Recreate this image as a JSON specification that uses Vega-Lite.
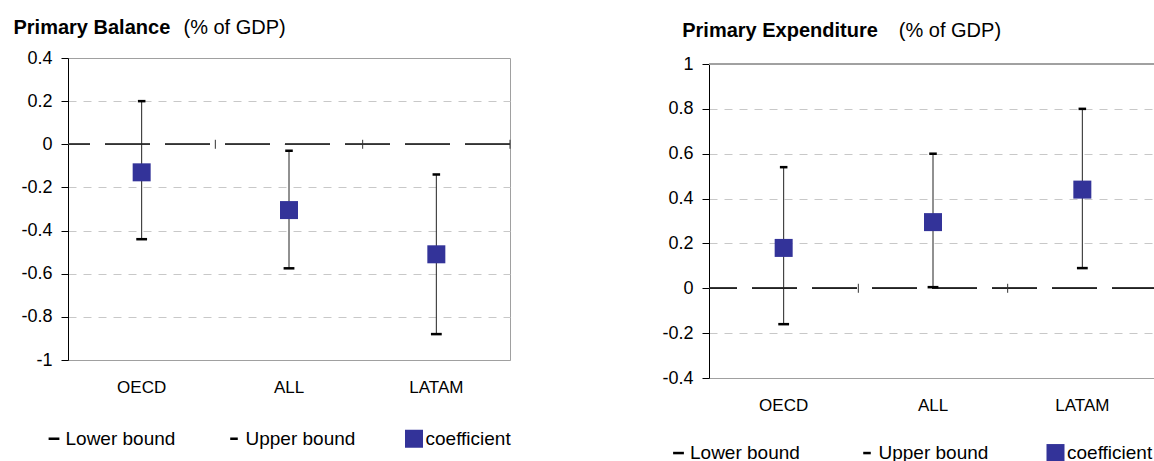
{
  "$schema": "https://vega.github.io/schema/vega-lite/v6.json",
  "padding": {"left": 12, "top": 16, "right": 0, "bottom": 0},
  "bounds": "flush",
  "spacing": 199,
  "datasets": {
    "pb": [
      {"region": "OECD", "series": "Lower bound", "value": -0.44},
      {"region": "OECD", "series": "Upper bound", "value": 0.2},
      {"region": "ALL", "series": "Lower bound", "value": -0.575},
      {"region": "ALL", "series": "Upper bound", "value": -0.03},
      {"region": "LATAM", "series": "Lower bound", "value": -0.88},
      {"region": "LATAM", "series": "Upper bound", "value": -0.14},
      {"region": "OECD", "series": "coefficient", "value": -0.13},
      {"region": "ALL", "series": "coefficient", "value": -0.305},
      {"region": "LATAM", "series": "coefficient", "value": -0.51}
    ],
    "pe": [
      {"region": "OECD", "series": "Lower bound", "value": -0.16},
      {"region": "OECD", "series": "Upper bound", "value": 0.54},
      {"region": "ALL", "series": "Lower bound", "value": 0.005},
      {"region": "ALL", "series": "Upper bound", "value": 0.6},
      {"region": "LATAM", "series": "Lower bound", "value": 0.09},
      {"region": "LATAM", "series": "Upper bound", "value": 0.8},
      {"region": "OECD", "series": "coefficient", "value": 0.18},
      {"region": "ALL", "series": "coefficient", "value": 0.295},
      {"region": "LATAM", "series": "coefficient", "value": 0.44}
    ]
  },
  "config": {
    "font": "Liberation Sans",
    "view": {"stroke": "#a0a0a0", "strokeWidth": 1},
    "axis": {"labelFont": "Liberation Sans", "titleFont": "Liberation Sans", "labelColor": "#000000", "titleColor": "#000000"}
  },
  "resolve": {
    "scale": {"x": "independent", "y": "independent", "color": "independent", "shape": "independent"},
    "legend": {"color": "independent", "shape": "independent"}
  },
  "hconcat": [
    {
      "width": 442,
      "height": 302,
      "data": {"name": "pb"},
      "layer": [
        {
          "mark": {"type": "rule", "strokeDash": [45, 15], "color": "#333333", "strokeWidth": 1},
          "encoding": {
            "y": {
              "datum": 0, "type": "quantitative",
              "scale": {"domain": [-1, 0.4], "nice": false, "zero": false},
              "axis": {
                "values": [0.4, 0.2, 0, -0.2, -0.4, -0.6, -0.8, -1],
                "labelExpr": "datum.value + ''",
                "domainColor": "#000000", "tickColor": "#000000", "tickSize": 7,
                "labelPadding": 9, "labelFontSize": 18,
                "grid": true, "gridColor": "#c8c8c8", "gridDash": [8, 7],
                "gridOpacity": {"condition": {"test": "datum.value == 0 || datum.value == 0.4", "value": 0}, "value": 1},
                "title": "(% of GDP)", "titleAngle": 0, "titleAlign": "left", "titleBaseline": "alphabetic",
                "titleX": 115, "titleY": -24.7, "titleFontWeight": "normal", "titleFontSize": 20
              }
            }
          }
        },
        {
          "transform": [{"filter": "datum.series == 'coefficient'"}],
          "mark": {"type": "point", "shape": "M0,-1L0,1", "size": 81, "filled": false, "stroke": "#333333", "strokeWidth": 1, "opacity": 1},
          "encoding": {
            "x": {
              "field": "region", "type": "nominal", "bandPosition": 1,
              "scale": {"domain": ["OECD", "ALL", "LATAM"], "paddingInner": 0, "paddingOuter": 0},
              "axis": {
                "title": "Primary Balance", "titleFontWeight": "bold", "titleFontSize": 20,
                "titleAlign": "left", "titleBaseline": "alphabetic", "titleX": -55, "titleY": -326.7,
                "labelAngle": 0, "ticks": false, "labelPadding": 19, "labelFontSize": 17,
                "domainColor": "#a0a0a0", "grid": false
              }
            },
            "y": {"datum": 0, "type": "quantitative"}
          }
        },
        {
          "transform": [{"pivot": "series", "value": "value", "groupby": ["region"]}],
          "mark": {"type": "rule", "color": "#222222", "strokeWidth": 1},
          "encoding": {
            "x": {"field": "region", "type": "nominal"},
            "y": {"field": "Lower bound", "type": "quantitative"},
            "y2": {"field": "Upper bound"}
          }
        },
        {
          "mark": {"type": "point", "filled": true, "size": 324, "opacity": 1, "strokeWidth": 0},
          "encoding": {
            "x": {"field": "region", "type": "nominal"},
            "y": {"field": "value", "type": "quantitative"},
            "color": {
              "field": "series", "type": "nominal",
              "scale": {"domain": ["Lower bound", "Upper bound", "coefficient"], "range": ["#000000", "#000000", "#333399"]},
              "legend": {"orient": "none", "legendX": -23.5, "legendY": 371, "direction": "horizontal", "title": null,
                "labelFontSize": 19, "labelFont": "Liberation Sans", "labelColor": "#000000", "labelOffset": 2,
                "columnPadding": 49, "symbolSize": 324, "padding": 0, "symbolStrokeWidth": 0}
            },
            "shape": {
              "field": "series", "type": "nominal",
              "scale": {"domain": ["Lower bound", "Upper bound", "coefficient"], "range": ["M-0.6,-0.14H0.6V0.14H-0.6Z", "M-0.42,-0.14H0.42V0.14H-0.42Z", "square"]},
              "legend": {"orient": "none", "legendX": -23.5, "legendY": 371, "direction": "horizontal", "title": null,
                "labelFontSize": 19, "labelFont": "Liberation Sans", "labelColor": "#000000", "labelOffset": 2,
                "columnPadding": 49, "symbolSize": 324, "padding": 0, "symbolStrokeWidth": 0}
            }
          }
        }
      ]
    },
    {
      "width": 448,
      "height": 320,
      "view": {"stroke": null},
      "data": {"name": "pe"},
      "layer": [
        {
          "mark": {"type": "rule", "strokeDash": [45, 15], "color": "#222222", "strokeWidth": 1},
          "encoding": {
            "y": {
              "datum": 0, "type": "quantitative",
              "scale": {"domain": [-0.4, 1], "nice": false, "zero": false, "range": [320, 6]},
              "axis": {
                "values": [1, 0.8, 0.6, 0.4, 0.2, 0, -0.2, -0.4],
                "labelExpr": "datum.value + ''",
                "domainColor": "#000000", "tickColor": "#000000", "tickSize": 7,
                "labelPadding": 9, "labelFontSize": 18,
                "grid": true, "gridColor": "#c8c8c8", "gridDash": [8, 7],
                "gridOpacity": {"condition": {"test": "datum.value == 0 || datum.value == 1 || datum.value == -0.4", "value": 0}, "value": 1},
                "title": "(% of GDP)", "titleAngle": 0, "titleAlign": "left", "titleBaseline": "alphabetic",
                "titleX": 189.3, "titleY": -22, "titleFontWeight": "normal", "titleFontSize": 20
              }
            }
          }
        },
        {
          "mark": {"type": "rule", "color": "#a0a0a0", "strokeWidth": 1},
          "encoding": {"y": {"datum": 1, "type": "quantitative"}}
        },
        {
          "transform": [{"filter": "datum.series == 'coefficient'"}],
          "mark": {"type": "point", "shape": "M0,-1L0,1", "size": 81, "filled": false, "stroke": "#333333", "strokeWidth": 1, "opacity": 1},
          "encoding": {
            "x": {
              "field": "region", "type": "nominal", "bandPosition": 1,
              "scale": {"domain": ["OECD", "ALL", "LATAM"], "paddingInner": 0, "paddingOuter": 0},
              "axis": {
                "title": "Primary Expenditure", "titleFontWeight": "bold", "titleFontSize": 20,
                "titleAlign": "left", "titleBaseline": "alphabetic", "titleX": -27.3, "titleY": -342,
                "labelAngle": 0, "ticks": false, "labelPadding": 19, "labelFontSize": 17,
                "domainColor": "#a0a0a0", "grid": false
              }
            },
            "y": {"datum": 0, "type": "quantitative"}
          }
        },
        {
          "transform": [{"pivot": "series", "value": "value", "groupby": ["region"]}],
          "mark": {"type": "rule", "color": "#222222", "strokeWidth": 1},
          "encoding": {
            "x": {"field": "region", "type": "nominal"},
            "y": {"field": "Lower bound", "type": "quantitative"},
            "y2": {"field": "Upper bound"}
          }
        },
        {
          "mark": {"type": "point", "filled": true, "size": 324, "opacity": 1, "strokeWidth": 0},
          "encoding": {
            "x": {"field": "region", "type": "nominal"},
            "y": {"field": "value", "type": "quantitative"},
            "color": {
              "field": "series", "type": "nominal",
              "scale": {"domain": ["Lower bound", "Upper bound", "coefficient"], "range": ["#000000", "#000000", "#333399"]},
              "legend": {"orient": "none", "legendX": -40, "legendY": 385.3, "direction": "horizontal", "title": null,
                "labelFontSize": 19, "labelFont": "Liberation Sans", "labelColor": "#000000", "labelOffset": 2,
                "columnPadding": 57.5, "symbolSize": 324, "padding": 0, "symbolStrokeWidth": 0}
            },
            "shape": {
              "field": "series", "type": "nominal",
              "scale": {"domain": ["Lower bound", "Upper bound", "coefficient"], "range": ["M-0.6,-0.14H0.6V0.14H-0.6Z", "M-0.42,-0.14H0.42V0.14H-0.42Z", "square"]},
              "legend": {"orient": "none", "legendX": -40, "legendY": 385.3, "direction": "horizontal", "title": null,
                "labelFontSize": 19, "labelFont": "Liberation Sans", "labelColor": "#000000", "labelOffset": 2,
                "columnPadding": 57.5, "symbolSize": 324, "padding": 0, "symbolStrokeWidth": 0}
            }
          }
        }
      ]
    }
  ]
}
